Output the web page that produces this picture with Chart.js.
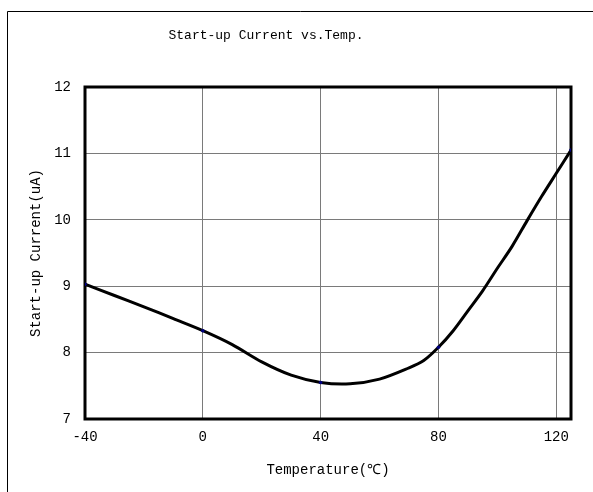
<!DOCTYPE html>
<html>
<head>
<meta charset="utf-8">
<script src="https://cdn.jsdelivr.net/npm/chart.js@4"></script>
<style>
  html, body { margin: 0; padding: 0; background: #fff; }
  #wrap { position: relative; width: 593px; height: 492px; }
</style>
</head>
<body>
<div id="wrap"><canvas id="myChart" width="593" height="492"></canvas></div>
<script>
const temps = [-40, -30, -20, -10, 0, 10, 20, 30, 40, 50, 60, 70, 75, 80, 85, 90, 95, 100, 105, 110, 115, 120, 125];
const current = [9.03, 8.86, 8.69, 8.51, 8.33, 8.12, 7.86, 7.66, 7.55, 7.53, 7.60, 7.77, 7.88, 8.08, 8.33, 8.63, 8.93, 9.27, 9.60, 9.98, 10.35, 10.70, 11.05];
const markedTemps = [-40, 0, 40, 80, 125];
const xTicks = [-40, 0, 40, 80, 120];
const yTicks = [7, 8, 9, 10, 11, 12];

const chartTitle = 'Start-up Current vs.Temp.';
const fontName = '"Liberation Mono", monospace';

const frame = {
  id: 'frame',
  beforeDraw(chart) {
    const c = chart.ctx;
    c.save();
    c.fillStyle = '#fff';
    c.fillRect(0, 0, chart.width, chart.height);
    c.strokeStyle = '#000';
    c.lineWidth = 1;
    c.beginPath();
    c.moveTo(7.5, chart.height);
    c.lineTo(7.5, 11.5);
    c.lineTo(chart.width, 11.5);
    c.stroke();
    c.fillStyle = '#000';
    c.font = '13px ' + fontName;
    c.textAlign = 'center';
    c.textBaseline = 'middle';
    c.fillText(chartTitle, 266, 36);
    c.restore();
  },
  beforeDatasetsDraw(chart) {
    const a = chart.chartArea;
    const c = chart.ctx;
    c.save();
    c.strokeStyle = '#000';
    c.lineWidth = 3;
    c.strokeRect(a.left, a.top, a.right - a.left, a.bottom - a.top);
    c.restore();
  }
};

const ctx = document.getElementById('myChart');

new Chart(ctx, {
  type: 'line',
  data: {
    datasets: [{
      data: temps.map((t, i) => ({ x: t, y: current[i] })),
      borderColor: '#000',
      borderWidth: 3,
      tension: 0.3,
      pointRadius: c => markedTemps.includes(temps[c.dataIndex]) ? 1.8 : 0,
      pointBackgroundColor: '#000080',
      pointBorderWidth: 0
    }]
  },
  options: {
    responsive: false,
    animation: false,
    layout: { padding: { top: 87, right: 22, left: 0, bottom: 0 } },
    plugins: { legend: { display: false }, tooltip: { enabled: false } },
    scales: {
      x: {
        type: 'linear',
        min: -40,
        max: 125,
        afterBuildTicks: s => { s.ticks = xTicks.map(v => ({ value: v })); },
        afterFit: s => { s.height = 73; },
        grid: { color: '#7a7a7a', lineWidth: 1, drawTicks: false },
        border: { display: false },
        ticks: { color: '#000', font: { family: fontName, size: 14 }, padding: 10, maxRotation: 0 },
        title: { display: true, text: 'Temperature(℃)', color: '#000', font: { family: fontName, size: 14 }, padding: { top: 0, bottom: 13 } }
      },
      y: {
        min: 7,
        max: 12,
        afterBuildTicks: s => { s.ticks = yTicks.map(v => ({ value: v })); },
        afterFit: s => { s.width = 85; },
        grid: { color: '#7a7a7a', lineWidth: 1, drawTicks: false },
        border: { display: false },
        ticks: { color: '#000', font: { family: fontName, size: 14 }, padding: 14 },
        title: { display: true, text: 'Start-up Current(uA)', color: '#000', font: { family: fontName, size: 14 }, padding: { top: 28, bottom: 0 } }
      }
    }
  },
  plugins: [frame]
});
</script>
</body>
</html>
